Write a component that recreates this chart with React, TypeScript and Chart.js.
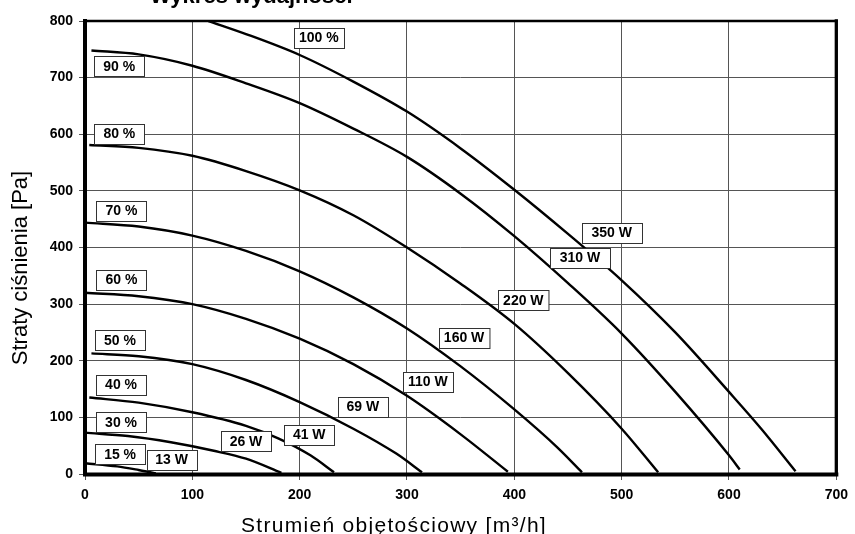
import React, { useEffect, useRef } from "react";
import { Chart, registerables } from "chart.js";

Chart.register(...registerables);

// Flow [m3/h], pressure [Pa] pairs
const curve15: [number, number][] = [[0, 19], [30, 13.5], [50, 7], [66, 1]];
const curve30: [number, number][] = [[0, 73], [40, 67], [80, 56], [120, 41], [150, 27], [183, 2]];
const curve40: [number, number][] = [[4, 135], [50, 126], [100, 109], [150, 85], [180, 63], [210, 33], [232, 3]];
const curve50: [number, number][] = [[6, 213], [50, 208], [100, 194], [150, 166], [200, 127], [250, 80], [290, 36], [314, 3]];
const curve60: [number, number][] = [[0, 320], [50, 314], [100, 300], [150, 274], [200, 239], [250, 194], [300, 138], [350, 70], [394, 4]];
const curve70: [number, number][] = [[0, 444], [50, 437], [100, 421], [150, 394], [200, 358], [250, 312], [300, 257], [350, 190], [400, 114], [440, 47], [463, 3]];
const curve80: [number, number][] = [[4, 581], [50, 576], [100, 562], [150, 535], [200, 501], [250, 457], [300, 400], [350, 336], [400, 265], [450, 178], [500, 80], [534, 3]];
const curve90: [number, number][] = [[6, 748], [50, 741], [100, 721], [150, 690], [200, 655], [250, 610], [300, 560], [350, 495], [400, 420], [450, 337], [500, 248], [550, 145], [600, 33], [610, 8]];
const curve100: [number, number][] = [[115, 800], [150, 777], [200, 740], [250, 693], [300, 640], [350, 575], [400, 502], [450, 424], [500, 342], [550, 250], [600, 145], [630, 80], [662, 5]];

const curves = [curve15, curve30, curve40, curve50, curve60, curve70, curve80, curve90, curve100];

// Box labels: text, flow, pressure (label centre)
const percentLabels: [string, number, number][] = [
  ["15 %", 32.7, 35], ["30 %", 33.6, 91], ["40 %", 33.6, 157], ["50 %", 32.5, 236],
  ["60 %", 34, 343], ["70 %", 34, 465], ["80 %", 32, 601], ["90 %", 31.8, 720], ["100 %", 217.8, 770],
];
const powerLabels: [string, number, number][] = [
  ["13 W", 80.6, 24.7], ["26 W", 150, 57.8], ["41 W", 208.9, 69.4], ["69 W", 258.8, 118.9],
  ["110 W", 319.4, 163], ["160 W", 353.2, 240], ["220 W", 408.4, 307], ["310 W", 461.2, 381.8], ["350 W", 490.7, 426],
];

const xTicks = [0, 100, 200, 300, 400, 500, 600, 700];
const yTicks = [0, 100, 200, 300, 400, 500, 600, 700, 800];

const chartTitle = "Wykres wydajności";
const xTitle = "Strumień objętościowy [m³/h]";
const yTitle = "Straty ciśnienia [Pa]";

const FONT = '"Liberation Sans", Arial, sans-serif';
const WIDE = ["310 W", "350 W"];

const overlay = {
  id: "overlay",
  afterDatasetsDraw(chart: any) {
    const { ctx, chartArea: a, scales } = chart;
    const xs = scales.x, ys = scales.y;
    ctx.save();
    // frame
    ctx.strokeStyle = "#000";
    ctx.lineCap = "square";
    const line = (x1: number, y1: number, x2: number, y2: number, w: number) => {
      ctx.lineWidth = w;
      ctx.beginPath();
      ctx.moveTo(x1, y1);
      ctx.lineTo(x2, y2);
      ctx.stroke();
    };
    line(a.left, a.top, a.right, a.top, 2.5);
    line(a.right, a.top, a.right, a.bottom, 3.3);
    line(a.left, a.bottom + 0.5, a.right, a.bottom + 0.5, 4);
    line(a.left, a.top, a.left, a.bottom, 4);

    // boxed labels
    ctx.font = `bold 14px ${FONT}`;
    ctx.textAlign = "center";
    ctx.textBaseline = "middle";
    [...percentLabels, ...powerLabels].forEach(([t, x, y]) => {
      const cx = xs.getPixelForValue(x);
      const cy = ys.getPixelForValue(y);
      const w = WIDE.includes(t) ? 60 : Math.max(50, ctx.measureText(t).width + 10);
      const h = 20;
      const l = Math.round(cx - w / 2) + 0.5;
      const tp = Math.round(cy - h / 2) + 0.5;
      ctx.fillStyle = "#fff";
      ctx.fillRect(l, tp, w, h);
      ctx.strokeStyle = "#333";
      ctx.lineWidth = 1;
      ctx.strokeRect(l, tp, w, h);
      ctx.fillStyle = "#000";
      ctx.fillText(t, cx, cy + 0.5);
    });

    // chart title (partly above the page)
    ctx.font = `bold 22px ${FONT}`;
    ctx.textAlign = "left";
    ctx.textBaseline = "alphabetic";
    ctx.fillText(chartTitle, 150, 3);

    // axis titles
    ctx.font = `21px ${FONT}`;
    (ctx as any).letterSpacing = "1.3px";
    ctx.textAlign = "left";
    ctx.fillText(xTitle, 241, 532);
    (ctx as any).letterSpacing = "0px";
    ctx.font = `22px ${FONT}`;
    ctx.translate(21, 268);
    ctx.rotate(-Math.PI / 2);
    ctx.textAlign = "center";
    ctx.textBaseline = "middle";
    ctx.fillText(yTitle, 0, 0);
    ctx.restore();
  },
};

export default function App() {
  const ref = useRef<HTMLCanvasElement | null>(null);
  useEffect(() => {
    if (!ref.current) return;
    const chart = new Chart(ref.current, {
      type: "line",
      data: {
        datasets: curves.map((c) => ({
          data: c.map(([x, y]) => ({ x, y })),
          borderColor: "#000",
          borderWidth: 2.4,
          pointRadius: 0,
          fill: false,
          cubicInterpolationMode: "monotone" as const,
        })),
      },
      options: {
        animation: false,
        responsive: false,
        devicePixelRatio: 1,
        layout: { padding: { left: 0, top: 21, right: 12, bottom: 0 } },
        plugins: { legend: { display: false }, tooltip: { enabled: false }, title: { display: false } },
        scales: {
          x: {
            type: "linear",
            min: 0,
            max: 700,
            afterFit: (s: any) => { s.height = 60; },
            afterBuildTicks: (s: any) => { s.ticks = xTicks.map((v) => ({ value: v })); },
            ticks: { color: "#000", font: { family: FONT, weight: "bold", size: 14 }, padding: 7, autoSkip: false, maxRotation: 0 },
            grid: { color: "#555", lineWidth: 1, tickLength: 6, drawTicks: true },
            border: { display: false },
          },
          y: {
            type: "linear",
            min: 0,
            max: 800,
            afterFit: (s: any) => { s.width = 85; },
            afterBuildTicks: (s: any) => { s.ticks = yTicks.map((v) => ({ value: v })); },
            ticks: { color: "#000", font: { family: FONT, weight: "bold", size: 14 }, padding: 6 },
            grid: { color: "#555", lineWidth: 1, tickLength: 6, drawTicks: true },
            border: { display: false },
          },
        },
      },
      plugins: [overlay],
    });
    return () => chart.destroy();
  }, []);
  return (
    <div style={{ position: "absolute", left: 0, top: 0, width: 855, height: 534, background: "#fff" }}>
      <canvas ref={ref} width={855} height={534} style={{ display: "block", width: 855, height: 534 }} />
    </div>
  );
}
